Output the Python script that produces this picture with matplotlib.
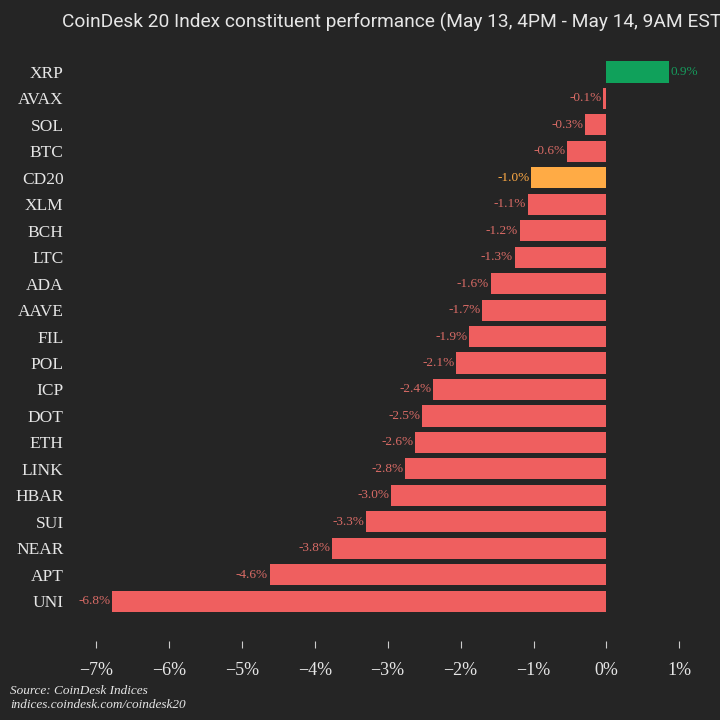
import matplotlib
matplotlib.use("Agg")
import matplotlib.pyplot as plt
from matplotlib import font_manager

names = ["XRP", "AVAX", "SOL", "BTC", "CD20", "XLM", "BCH", "LTC", "ADA", "AAVE",
         "FIL", "POL", "ICP", "DOT", "ETH", "LINK", "HBAR", "SUI", "NEAR", "APT", "UNI"]
values = [0.86, -0.05, -0.29, -0.54, -1.03, -1.08, -1.19, -1.26, -1.59, -1.71,
          -1.88, -2.06, -2.38, -2.53, -2.63, -2.76, -2.96, -3.30, -3.76, -4.62, -6.78]
labels = ["0.9%", "-0.1%", "-0.3%", "-0.6%", "-1.0%", "-1.1%", "-1.2%", "-1.3%", "-1.6%", "-1.7%",
          "-1.9%", "-2.1%", "-2.4%", "-2.5%", "-2.6%", "-2.8%", "-3.0%", "-3.3%", "-3.8%", "-4.6%", "-6.8%"]
xticks = [-7, -6, -5, -4, -3, -2, -1, 0, 1]
xticklabels = ["\u22127%", "\u22126%", "\u22125%", "\u22124%", "\u22123%", "\u22122%", "\u22121%", "0%", "1%"]

BG = "#252525"
RED = "#ef5f5f"
RED_TXT = "#d96b66"
GREEN = "#10a15b"
GREEN_TXT = "#169a5c"
ORANGE = "#ffab45"
TEXT = "#e6e6e6"

title_font = "Roboto"
serif = "Liberation Serif"

fig = plt.figure(figsize=(7.2, 7.2), dpi=100, facecolor=BG)
ax = fig.add_axes([0.0826, 0.110, 0.974 - 0.0826, 0.9294 - 0.110], facecolor=BG)

ys = list(range(len(names)))
colors = []
tcolors = []
for n, v in zip(names, values):
    if n == "CD20":
        colors.append(ORANGE); tcolors.append(ORANGE)
    elif v >= 0:
        colors.append(GREEN); tcolors.append(GREEN_TXT)
    else:
        colors.append(RED); tcolors.append(RED_TXT)

ax.barh(ys, values, height=0.8, color=colors, edgecolor="none")
for y, v, lab, tc in zip(ys, values, labels, tcolors):
    if v >= 0:
        ax.text(v + 0.02, y, lab, ha="left", va="center", color=tc, fontsize=9.5, family=serif)
    else:
        ax.text(v - 0.02, y, lab, ha="right", va="center", color=tc, fontsize=9.5, family=serif)

ax.set_xlim(-7.5, 1.3)
ax.set_ylim(21.5, -0.8)
ax.set_yticks(ys)
ax.set_yticklabels(names, family=serif, fontsize=12.5, color=TEXT)
ax.tick_params(axis="y", length=0, pad=-3)
ax.set_xticks(xticks)
ax.set_xticklabels(xticklabels, family=serif, fontsize=13, color=TEXT)
ax.tick_params(axis="x", length=5, width=0.8, color="#cccccc", pad=10, direction="out")
for s in ax.spines.values():
    s.set_visible(False)

fig.text(62 / 720, 1 - 22 / 720, "CoinDesk 20 Index constituent performance (May 13, 4PM - May 14, 9AM EST)",
         ha="left", va="center", color=TEXT, fontsize=13.8, family=title_font)
fig.text(10 / 720, 1 - 691 / 720, "Source: CoinDesk Indices", ha="left", va="center",
         color=TEXT, fontsize=9.5, family=serif, style="italic")
fig.text(10 / 720, 1 - 705 / 720, "indices.coindesk.com/coindesk20", ha="left", va="center",
         color=TEXT, fontsize=9.5, family=serif, style="italic")

fig.savefig("out.png", dpi=100, facecolor=BG)
